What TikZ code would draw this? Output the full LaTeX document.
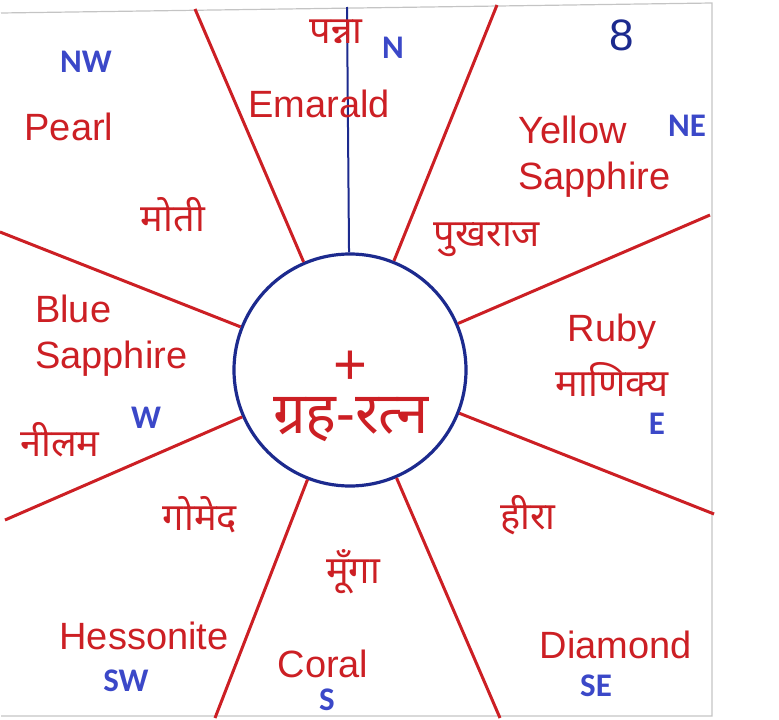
\documentclass[tikz,border=0pt]{standalone}
\usepackage{fontspec}
\setmainfont{Liberation Sans}
\newfontfamily\hindifont[Script=Devanagari]{Noto Sans}
\newfontfamily\dirfont{Carlito}
\usetikzlibrary{positioning}
\definecolor{gemred}{HTML}{CC1F24}
\definecolor{ringblue}{HTML}{1C2A8E}
\definecolor{dirblue}{HTML}{3B48C8}
\definecolor{cardedge}{HTML}{C4C4C4}
\tikzset{
  ray/.style={draw=gemred,line width=3pt},
  axis/.style={draw=ringblue,line width=2pt},
  ring/.style={circle,draw=ringblue,line width=3.2pt,minimum size=232pt,inner sep=0pt},
  gemname/.style={text=gemred,font=\fontsize{38}{46}\selectfont,inner sep=0pt,align=left},
  hindiname/.style={text=gemred,font=\hindifont\bfseries\fontsize{38}{44}\selectfont,inner sep=0pt},
  compass/.style={text=dirblue,font=\dirfont\bfseries\fontsize{33}{34}\selectfont,inner sep=0pt}
}

\begin{document}
\begin{tikzpicture}[x=1pt,y=-1pt]
        \useasboundingbox (0,0) rectangle (779,720);
        \draw[cardedge,line width=1.2pt] (1,13) -- (712,3) -- (712,716) -- (1,716);
        % central ring with radial lines
        \node[ring] (gem) at (350,370) {};
        \coordinate (ntop) at (347,7);
        \coordinate (rayA) at (195,9);
        \coordinate (rayB) at (497,5);
        \coordinate (rayC) at (710,215);
        \coordinate (rayD) at (714,514);
        \coordinate (rayE) at (500,718);
        \coordinate (rayF) at (215,718);
        \coordinate (rayG) at (5,520);
        \coordinate (rayH) at (0,232);
        \draw[axis] (ntop) -- (gem);
        \foreach \r in {A,B,C,D,E,F,G,H}
          \draw[ray] (ray\r) -- (gem);
        \node[text=gemred,font=\fontsize{58}{58}\selectfont,inner sep=0pt] (plus) at (350,368) {+};
        \node[hindiname,font=\hindifont\bfseries\fontsize{58}{62}\selectfont] (title) at (351,420) {ग्रह-रत्न};
        % gem names
        \node[hindiname] (panna) at (336,32) {पन्ना};
        \node[gemname] (emerald) at (319,104) {Emarald};
        \node[gemname] (pearl) at (69,127) {Pearl};
        \node[hindiname] (moti) at (173,215) {मोती};
        \node[gemname,anchor=west] (yellow) at (518,157) {Yellow\\Sapphire};
        \node[hindiname] (pukhraj) at (487,240) {पुखराज};
        \node[gemname,anchor=west] (blue) at (35,336) {Blue\\Sapphire};
        \node[hindiname] (neelam) at (60,440) {नीलम};
        \node[gemname] (ruby) at (612,332) {Ruby};
        \node[hindiname] (manikya) at (612,379) {माणिक्य};
        \node[gemname] (hessonite) at (144,636) {Hessonite};
        \node[hindiname] (gomed) at (200,515) {गोमेद};
        \node[hindiname] (heera) at (528,515) {हीरा};
        \node[hindiname] (moonga) at (353,572) {मूँगा};
        \node[gemname] (coral) at (323,664) {Coral};
        \node[gemname] (diamond) at (616,645) {Diamond};
        \node[text=ringblue,font=\fontsize{44}{44}\selectfont,inner sep=0pt] (num) at (622,35) {8};
        % directions
        \node[compass] (dNW) at (86,62) {NW};
        \node[compass] (dN) at (393,48) {N};
        \node[compass] (dNE) at (687,126) {NE};
        \node[compass] (dE) at (657,424) {E};
        \node[compass] (dW) at (146,418) {W};
        \node[compass] (dSW) at (126,681) {SW};
        \node[compass] (dS) at (327,700) {S};
        \node[compass] (dSE) at (596,686) {SE};
      \end{tikzpicture}
\end{document}
